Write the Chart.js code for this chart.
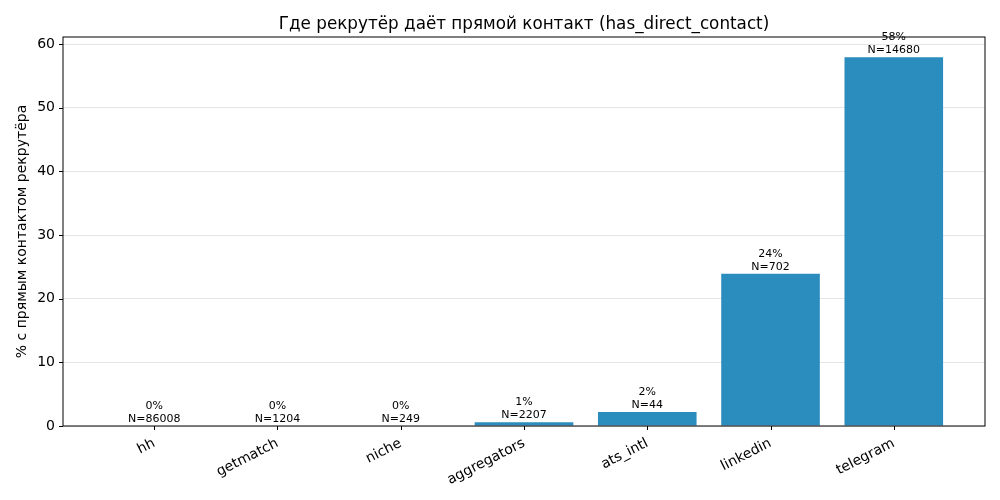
<!DOCTYPE html>
<html>
<head>
<meta charset="utf-8">
<script src="https://cdn.jsdelivr.net/npm/chart.js@4"></script>
<style>
  html, body { margin: 0; padding: 0; background: #fff; }
  #wrap { width: 1000px; height: 500px; }
</style>
</head>
<body>
<div id="wrap"><canvas id="chart" width="1000" height="500"></canvas></div>
<script>
const sources = ['hh', 'getmatch', 'niche', 'aggregators', 'ats_intl', 'linkedin', 'telegram'];
const directPct = [0, 0, 0, 0.6, 2.2, 23.9, 57.9];
const sampleN = [86008, 1204, 249, 2207, 44, 702, 14680];
const yTicks = [0, 10, 20, 30, 40, 50, 60];

const FONT = "'DejaVu Sans', sans-serif";
const barColor = '#2b8cbe';

// axes box, tick marks, title and bar labels (matplotlib look)
const decor = {
    id: 'decor',
    afterDraw(chart) {
        const { ctx, chartArea: a, scales } = chart;
        ctx.save();
        ctx.strokeStyle = '#000';
        ctx.lineWidth = 1;
        ctx.strokeRect(a.left, a.top, a.right - a.left, a.bottom - a.top);

        ctx.beginPath();
        yTicks.forEach(v => {
            const y = Math.round(scales.y.getPixelForValue(v)) + 0.5;
            ctx.moveTo(a.left - 4, y);
            ctx.lineTo(a.left, y);
        });
        sources.forEach((s, i) => {
            const x = Math.round(scales.x.getPixelForValue(i)) + 0.5;
            ctx.moveTo(x, a.bottom);
            ctx.lineTo(x, a.bottom + 4);
        });
        ctx.stroke();

        ctx.fillStyle = '#000';
        ctx.font = '16.8px ' + FONT;
        ctx.textAlign = 'center';
        ctx.textBaseline = 'alphabetic';
        ctx.fillText('Где рекрутёр даёт прямой контакт (has_direct_contact)', (a.left + a.right) / 2, 29);

        ctx.font = '11px ' + FONT;
        const meta = chart.getDatasetMeta(0);
        meta.data.forEach((bar, i) => {
            const x = bar.x;
            const top = bar.y;
            ctx.fillText('N=' + sampleN[i], x, top - 4);
            ctx.fillText(Math.round(directPct[i]) + '%', x, top - 17);
        });
        ctx.restore();
    }
};

new Chart(document.getElementById('chart'), {
    type: 'bar',
    data: {
        datasets: [{
            data: directPct.map((v, i) => ({ x: i, y: v })),
            backgroundColor: barColor,
            borderWidth: 0,
            barPercentage: 0.8,
            categoryPercentage: 1.0
        }]
    },
    options: {
        responsive: false,
        animation: false,
        devicePixelRatio: 1,
        layout: { padding: { top: 37, right: 15, left: 0, bottom: 0 } },
        plugins: {
            legend: { display: false },
            tooltip: { enabled: false },
            title: { display: false }
        },
        scales: {
            x: {
                type: 'linear',
                offset: false,
                min: -0.74,
                max: 6.74,
                afterBuildTicks(scale) {
                    scale.ticks = sources.map((s, i) => ({ value: i }));
                },
                afterFit(scale) { scale.height = 74; },
                grid: { display: false, drawTicks: false, offset: false },
                border: { display: false },
                ticks: {
                    autoSkip: false,
                    minRotation: 27,
                    maxRotation: 27,
                    padding: 9,
                    color: '#000',
                    font: { family: FONT, size: 14 },
                    callback: v => sources[v]
                }
            },
            y: {
                min: 0,
                max: 61.1,
                afterBuildTicks(scale) {
                    scale.ticks = yTicks.map(v => ({ value: v }));
                },
                afterFit(scale) { scale.width = 63; },
                grid: { color: '#e6e6e6', lineWidth: 1, drawTicks: false },
                border: { display: false },
                ticks: {
                    padding: 8,
                    color: '#000',
                    font: { family: FONT, size: 14 }
                },
                title: {
                    display: true,
                    text: '% с прямым контактом рекрутёра',
                    color: '#000',
                    font: { family: FONT, size: 14 },
                    padding: { top: 14, bottom: 4 }
                }
            }
        }
    },
    plugins: [decor]
});
</script>
</body>
</html>
